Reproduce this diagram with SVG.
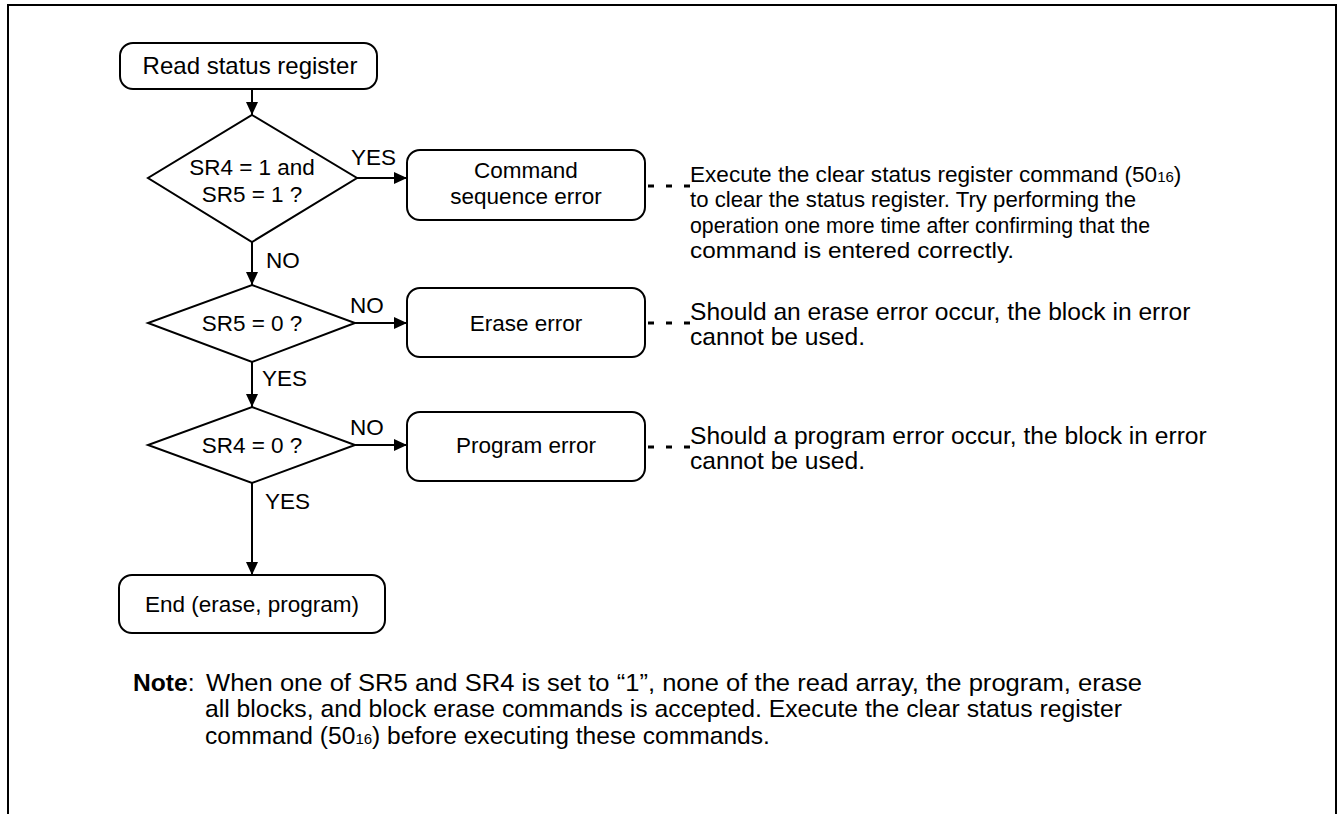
<svg xmlns="http://www.w3.org/2000/svg" width="1339" height="814" viewBox="0 0 1339 814">
<defs>
<marker id="arr" markerUnits="userSpaceOnUse" markerWidth="14" markerHeight="14" refX="13" refY="7" orient="auto">
<path d="M0,1 L13,7 L0,13 z" fill="#000"/>
</marker>
<style>
.box{fill:#fff;stroke:#000;stroke-width:2}
.t{font-family:"Liberation Sans",Arial,sans-serif;font-size:22.5px;fill:#000}
.c{text-anchor:middle}
.big{font-size:24px}
.ex{font-size:22.6px}
.nt{font-size:24.6px}
.ln{stroke:#000;stroke-width:2;fill:none}
.dot{stroke:#000;stroke-width:3;stroke-dasharray:6 12;fill:none}
.sub{font-size:15px}
</style>
</defs>
<rect width="1339" height="814" fill="#fff"/>
<path d="M8,814 L8,5 L1336,5 L1336,814" stroke="#000" stroke-width="2" fill="none"/>

<g id="connectors">
<line class="ln" x1="252" y1="89" x2="252" y2="115" marker-end="url(#arr)"/>
<line class="ln" x1="357" y1="178" x2="407" y2="178" marker-end="url(#arr)"/>
<line class="ln" x1="252" y1="242" x2="252" y2="285" marker-end="url(#arr)"/>
<line class="ln" x1="355" y1="323" x2="407" y2="323" marker-end="url(#arr)"/>
<line class="ln" x1="252" y1="362" x2="252" y2="407" marker-end="url(#arr)"/>
<line class="ln" x1="355" y1="445" x2="407" y2="445" marker-end="url(#arr)"/>
<line class="ln" x1="252" y1="483" x2="252" y2="575" marker-end="url(#arr)"/>
<line class="dot" x1="648" y1="186" x2="690" y2="186"/>
<line class="dot" x1="648" y1="323" x2="690" y2="323"/>
<line class="dot" x1="648" y1="447" x2="690" y2="447"/>
<text class="t" x="351" y="165">YES</text>
<text class="t" x="266" y="268">NO</text>
<text class="t" x="350" y="313">NO</text>
<text class="t" x="262" y="386">YES</text>
<text class="t" x="350" y="435">NO</text>
<text class="t" x="265" y="509">YES</text>
</g>

<g id="start">
<rect class="box" x="120" y="43" width="257" height="46" rx="13"/>
<text class="t c big" x="250" y="74">Read status register</text>
</g>

<g id="d1">
<path class="box" d="M252,115 L357,178 L252,242 L148,178 z"/>
<text class="t c" x="252" y="175">SR4 = 1 and</text>
<text class="t c" x="252" y="202">SR5 = 1 ?</text>
</g>

<g id="cmdErr">
<rect class="box" x="407" y="150" width="238" height="70" rx="13"/>
<text class="t c" x="526" y="178">Command</text>
<text class="t c" x="526" y="204">sequence error</text>
</g>

<g id="d2">
<path class="box" d="M252,285 L355,323 L252,362 L148,323 z"/>
<text class="t c" x="252" y="331">SR5 = 0 ?</text>
</g>

<g id="eraseErr">
<rect class="box" x="407" y="288" width="238" height="69" rx="13"/>
<text class="t c" x="526" y="331">Erase error</text>
</g>

<g id="d3">
<path class="box" d="M252,407 L355,445 L252,483 L148,445 z"/>
<text class="t c" x="252" y="453">SR4 = 0 ?</text>
</g>

<g id="progErr">
<rect class="box" x="407" y="412" width="238" height="69" rx="13"/>
<text class="t c" x="526" y="453">Program error</text>
</g>

<g id="end">
<rect class="box" x="119" y="575" width="266" height="58" rx="13"/>
<text class="t c" x="252" y="612">End (erase, program)</text>
</g>

<g id="notes">
<text class="t ex" x="690" y="182">Execute the clear status register command (50<tspan class="sub">16</tspan>)</text>
<text class="t ex" x="690" y="207" textLength="446" lengthAdjust="spacingAndGlyphs">to clear the status register. Try performing the</text>
<text class="t ex" x="690" y="233" textLength="460" lengthAdjust="spacingAndGlyphs">operation one more time after confirming that the</text>
<text class="t ex" x="690" y="258" textLength="324" lengthAdjust="spacingAndGlyphs">command is entered correctly.</text>
<text class="t nt" x="690" y="320">Should an erase error occur, the block in error</text>
<text class="t nt" x="690" y="345">cannot be used.</text>
<text class="t nt" x="690" y="444">Should a program error occur, the block in error</text>
<text class="t nt" x="690" y="469">cannot be used.</text>
</g>

<g id="note">
<text class="t nt" x="133" y="691"><tspan font-weight="bold">Note</tspan>:</text>
<text class="t nt" x="206" y="691" textLength="936" lengthAdjust="spacingAndGlyphs">When one of SR5 and SR4 is set to “1”, none of the read array, the program, erase</text>
<text class="t nt" x="205" y="717" textLength="917" lengthAdjust="spacingAndGlyphs">all blocks, and block erase commands is accepted. Execute the clear status register</text>
<text class="t nt" x="205" y="744">command (50<tspan class="sub">16</tspan>) before executing these commands.</text>
</g>
</svg>
